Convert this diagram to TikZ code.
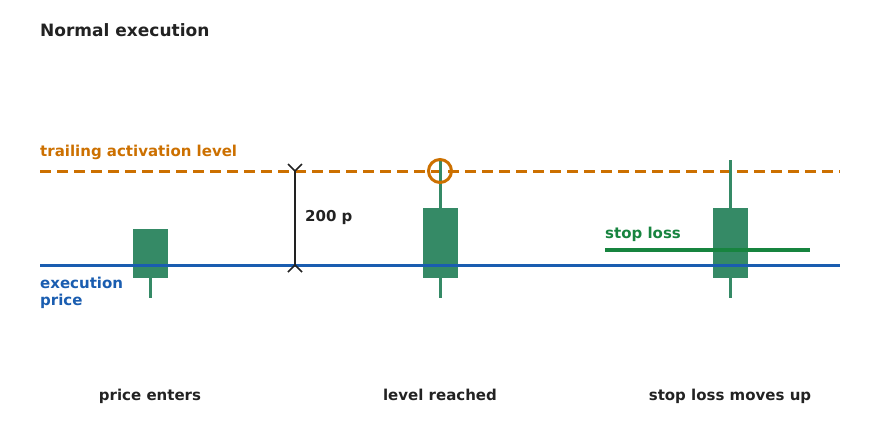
\documentclass[tikz,border=0pt]{standalone}
\usepackage{fontspec}
\setmainfont{DejaVu Sans}
\definecolor{txt}{HTML}{222222}
\definecolor{org}{HTML}{CC7000}
\definecolor{blu}{HTML}{1A5DB0}
\definecolor{cdl}{HTML}{358A66}
\definecolor{slg}{HTML}{17843F}
\begin{document}
\begin{tikzpicture}[x=1pt,y=-1pt,
  lbl/.style={font=\bfseries\fontsize{15}{18}\selectfont, inner sep=0pt},
  body/.style={fill=cdl, draw=none},
  wick/.style={draw=cdl, line width=3pt},
  bar/.style={line width=3pt}]
\useasboundingbox (0,0) rectangle (880,440);
% title
\node[lbl, font=\bfseries\fontsize{17}{20}\selectfont, text=txt, anchor=base west] (title) at (40,36) {Normal execution};
% trailing level
\node[lbl, text=org, anchor=base west] (tal) at (40,156) {trailing activation level};
\coordinate (tl0) at (40,171);
\coordinate (tl1) at (840,171);
\draw[org, bar, dash pattern=on 11pt off 6pt] (tl0) -- (tl1);
% candles
\coordinate (w1b) at (150,298);
\coordinate (w1t) at (150,250);
\draw[wick] (w1t) -- (w1b);
\node[body, minimum width=35pt, minimum height=49pt, inner sep=0pt] (c1) at (150.5,253.5) {};
\coordinate (w2t) at (440,160);
\coordinate (w2b) at (440,298);
\draw[wick] (w2t) -- (w2b);
\node[body, minimum width=35pt, minimum height=70pt, inner sep=0pt] (c2) at (440.5,243) {};
\coordinate (w3t) at (730,160);
\coordinate (w3b) at (730,298);
\draw[wick] (w3t) -- (w3b);
\node[body, minimum width=35pt, minimum height=70pt, inner sep=0pt] (c3) at (730.5,243) {};
% execution price
\coordinate (ep0) at (40,265);
\coordinate (ep1) at (840,265);
\draw[blu, bar] (ep0) -- (ep1);
\node[lbl, text=blu, anchor=base west] (ep) at (40,288) {execution};
\node[lbl, text=blu, anchor=base west] (ep2) at (40,305) {price};
% circle
\node[draw=org, line width=3pt, circle, minimum size=23pt, inner sep=0pt] (circ) at (440,171) {};
% measure
\coordinate (m0) at (295,171);
\coordinate (m1) at (295,265);
\draw[txt, line width=1.8pt] (m0) -- (m1);
\draw[txt, line width=1.6pt] (288,164) -- (m0) -- (302,164);
\draw[txt, line width=1.6pt] (288,272) -- (m1) -- (302,272);
\node[lbl, text=txt, anchor=base west] (dist) at (305,221) {200 p};
% stop loss
\coordinate (sl0) at (605,250);
\coordinate (sl1) at (810,250);
\draw[slg, line width=3.5pt] (sl0) -- (sl1);
\node[lbl, text=slg, anchor=base west] (sl) at (605,238) {stop loss};
% bottom labels
\node[lbl, text=txt, anchor=base] (b1) at (150,400) {price enters};
\node[lbl, text=txt, anchor=base] (b2) at (440,400) {level reached};
\node[lbl, text=txt, anchor=base] (b3) at (730,400) {stop loss moves up};
\end{tikzpicture}
\end{document}
